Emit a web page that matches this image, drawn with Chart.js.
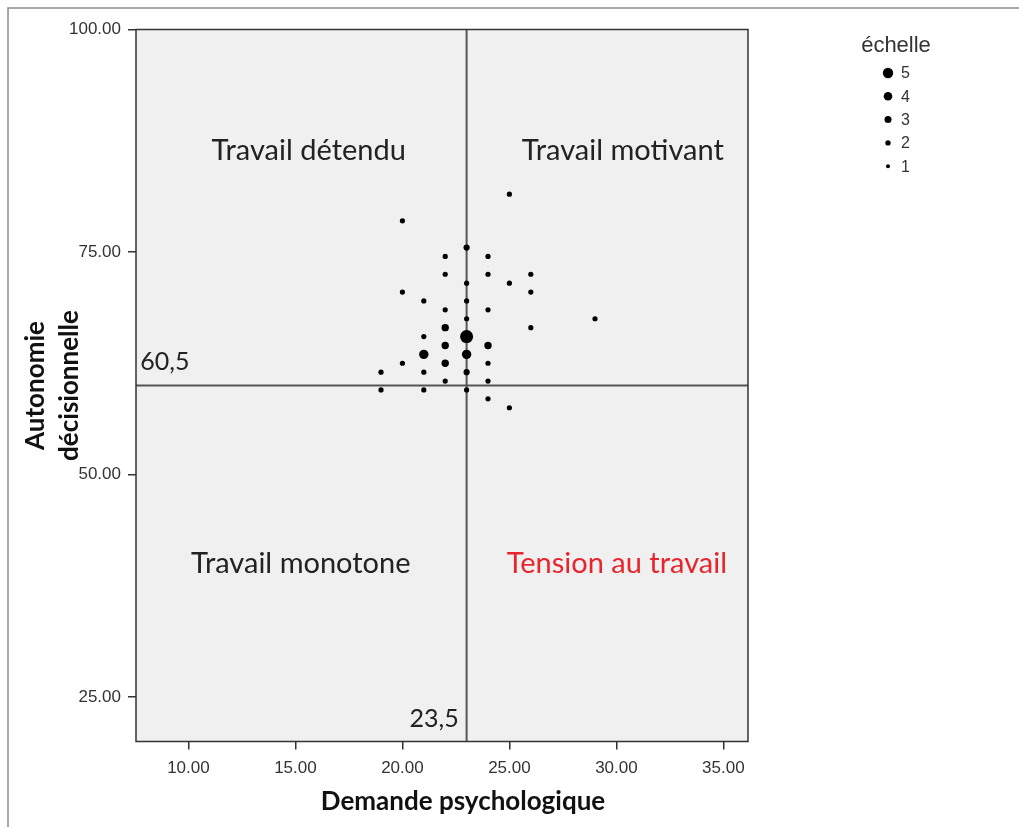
<!DOCTYPE html>
<html lang="fr">
<head>
<meta charset="UTF-8">
<title>Demande psychologique / autonomie décisionnelle</title>
<script src="https://cdn.jsdelivr.net/npm/chart.js"></script>
<style>
  html, body { margin: 0; padding: 0; background: #fff; }
  #graphe { display: block; }
</style>
</head>
<body>
<canvas id="graphe" width="1019" height="827"></canvas>
<script>
// ---- données ----
const demande   = [25, 20, 23, 22, 24, 22, 24, 26, 23, 25, 20, 26, 21, 23, 22, 24, 23, 29, 22, 26,
                   21, 23, 22, 24, 21, 23, 20, 22, 24, 19, 21, 23, 22, 24, 19, 21, 23, 24, 25];
const autonomie = [81.5, 78.5, 75.5, 74.5, 74.5, 72.5, 72.5, 72.5, 71.5, 71.5, 70.5, 70.5, 69.5, 69.5,
                   68.5, 68.5, 67.5, 67.5, 66.5, 66.5, 65.5, 65.5, 64.5, 64.5, 63.5, 63.5, 62.5, 62.5,
                   62.5, 61.5, 61.5, 61.5, 60.5, 60.5, 59.5, 59.5, 59.5, 58.5, 57.5];
const echelle   = [1, 1, 2, 1, 1, 1, 1, 1, 1, 1, 1, 1, 1, 1, 1, 1, 1, 1, 3, 1,
                   1, 5, 3, 3, 4, 4, 1, 3, 1, 1, 1, 2, 1, 1, 1, 1, 1, 1, 1];

const xTicks = [10, 15, 20, 25, 30, 35];
const yTicks = [25, 50, 75, 100];
const niveaux = [5, 4, 3, 2, 1];

// lignes de séparation des quadrants
const seuilDemande = 23;
const seuilAutonomie = 60;
const etiquetteDemande = '23,5';
const etiquetteAutonomie = '60,5';

const quadrants = ['Travail détendu', 'Travail motivant', 'Travail monotone', 'Tension au travail'];
const titreX = 'Demande psychologique';

// ---- styles ----
const rayonsPoints  = [2.6, 3.1, 3.7, 4.7, 6.5];   // taille des points selon l'échelle
const rayonsLegende = [2, 2.7, 3.5, 4.3, 5.2];
const policeTexte = 'Lato, "Open Sans", sans-serif';
const policeAxes = '"Liberation Sans", Arial, sans-serif';

const points = demande.map((d, i) => ({ x: d, y: autonomie[i] }));

// fond, lignes, textes des quadrants, légende
const decor = {
  id: 'decor',
  beforeDraw(chart) {
    const { ctx, chartArea: a } = chart;
    ctx.save();
    ctx.strokeStyle = '#8c8c8c';
    ctx.lineWidth = 1.5;
    ctx.beginPath();
    ctx.moveTo(8, chart.height);
    ctx.lineTo(8, 8);
    ctx.lineTo(chart.width, 8);
    ctx.stroke();
    ctx.fillStyle = '#f0f0f0';
    ctx.fillRect(a.left, a.top, a.right - a.left, a.bottom - a.top);
    ctx.restore();
  },
  beforeDatasetsDraw(chart) {
    const { ctx, chartArea: a, scales: { x, y } } = chart;
    const px = x.getPixelForValue(seuilDemande);
    const py = y.getPixelForValue(seuilAutonomie);
    ctx.save();
    ctx.strokeStyle = '#555';
    ctx.lineWidth = 2;
    ctx.beginPath();
    ctx.moveTo(px, a.top); ctx.lineTo(px, a.bottom);
    ctx.moveTo(a.left, py); ctx.lineTo(a.right, py);
    ctx.stroke();
    ctx.strokeStyle = '#333';
    ctx.lineWidth = 1.5;
    ctx.strokeRect(a.left, a.top, a.right - a.left, a.bottom - a.top);
    ctx.restore();
  },
  afterDatasetsDraw(chart) {
    const { ctx, chartArea: a, scales: { x, y } } = chart;
    ctx.save();
    ctx.textBaseline = 'middle';

    // noms des quadrants
    ctx.font = '29px ' + policeTexte;
    ctx.textAlign = 'center';
    const pos = [[15.62, 86.35], [30.3, 86.35], [15.25, 39.94], [30.02, 39.94]];
    quadrants.forEach((t, i) => {
      ctx.fillStyle = i === 3 ? '#e8242c' : '#222';
      ctx.fillText(t, x.getPixelForValue(pos[i][0]), y.getPixelForValue(pos[i][1]));
    });

    // valeurs des seuils
    ctx.font = '25px ' + policeTexte;
    ctx.fillStyle = '#222';
    ctx.textAlign = 'left';
    ctx.fillText(etiquetteAutonomie, x.getPixelForValue(7.75), y.getPixelForValue(62.6));
    ctx.textAlign = 'right';
    ctx.fillText(etiquetteDemande, x.getPixelForValue(22.63), y.getPixelForValue(22.5));

    // titre de l'axe x (un peu décalé à droite comme sur l'original)
    ctx.font = 'bold 26px ' + policeTexte;
    ctx.fillStyle = '#111';
    ctx.textAlign = 'center';
    ctx.fillText(titreX, (a.left + a.right) / 2 + 21, 802);

    // légende
    ctx.fillStyle = '#333';
    ctx.font = '22px ' + policeAxes;
    ctx.fillText('échelle', 896, 46);
    ctx.font = '16px ' + policeAxes;
    ctx.textAlign = 'left';
    niveaux.forEach((n, i) => {
      const cy = 73 + i * 23.3;
      ctx.fillStyle = '#000';
      ctx.beginPath();
      ctx.arc(888, cy, rayonsLegende[n - 1], 0, Math.PI * 2);
      ctx.fill();
      ctx.fillStyle = '#333';
      ctx.fillText(String(n), 901, cy + 1);
    });
    ctx.restore();
  }
};

new Chart(document.getElementById('graphe'), {
  type: 'scatter',
  data: {
    datasets: [{
      label: 'échelle',
      data: points,
      backgroundColor: '#000',
      borderWidth: 0,
      pointRadius: c => rayonsPoints[echelle[c.dataIndex] - 1]
    }]
  },
  options: {
    responsive: false,
    animation: false,
    events: [],
    layout: { padding: { left: 18, right: 271, top: 29.5, bottom: 5.5 } },
    plugins: { legend: { display: false }, tooltip: { enabled: false } },
    scales: {
      x: {
        min: 7.55,
        max: 36.15,
        afterBuildTicks: s => { s.ticks = xTicks.map(v => ({ value: v })); },
        afterFit: s => { s.height = 80; },
        border: { display: false },
        grid: { drawOnChartArea: false, drawTicks: true, tickLength: 8, color: '#333', lineWidth: 1.5 },
        ticks: {
          padding: 9,
          color: '#333',
          font: { family: policeAxes, size: 17 },
          callback: v => v.toFixed(2)
        }
      },
      y: {
        min: 20,
        max: 100,
        afterBuildTicks: s => { s.ticks = yTicks.map(v => ({ value: v })); },
        afterFit: s => { s.width = 118; },
        border: { display: false },
        grid: { drawOnChartArea: false, drawTicks: true, tickLength: 8, color: '#333', lineWidth: 1.5 },
        ticks: {
          padding: 7,
          color: '#333',
          font: { family: policeAxes, size: 17 },
          callback: v => v.toFixed(2)
        },
        title: {
          display: true,
          text: ['Autonomie', 'décisionnelle'],
          color: '#111',
          font: { family: policeTexte, size: 26, weight: 'bold', lineHeight: 1.3 },
          padding: { top: 1, bottom: 0 }
        }
      }
    }
  },
  plugins: [decor]
});
</script>
</body>
</html>
